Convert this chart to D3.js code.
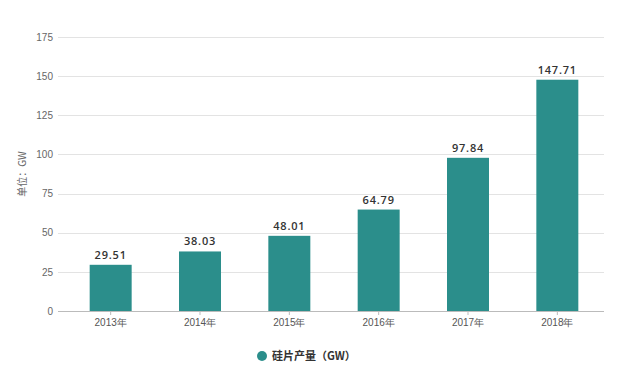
<!DOCTYPE html>
<html>
<head>
<meta charset="utf-8">
<script src="https://cdn.jsdelivr.net/npm/d3@7"></script>
<style>
  body { margin: 0; background: #fff; }
  svg { font-family: "Noto Sans CJK SC", "Noto Sans", sans-serif; }
</style>
</head>
<body>
<div id="chart"></div>
<script>
// wafer output by year, GW
const years = ['2013年', '2014年', '2015年', '2016年', '2017年', '2018年'];
const output = [29.51, 38.03, 48.01, 64.79, 97.84, 147.71];
const yTicks = [0, 25, 50, 75, 100, 125, 150, 175];
const seriesName = '硅片产量（GW）';

const width = 619;
const height = 376;
const barColor = '#2b8e8b';

const svg = d3.select('#chart')
  .append('svg')
  .attr('width', width)
  .attr('height', height);

const x = d3.scaleBand()
  .domain(years)
  .range([66, 602])
  .paddingInner(0.53)
  .paddingOuter(0.265);

const y = d3.scaleLinear()
  .domain([0, 175])
  .range([311, 37]);

// gridlines
svg.append('g')
  .selectAll('line')
  .data(yTicks)
  .enter()
  .append('line')
  .attr('x1', 58)
  .attr('x2', 604)
  .attr('y1', d => Math.round(y(d)) + 0.5)
  .attr('y2', d => Math.round(y(d)) + 0.5)
  .attr('stroke', d => d === 0 ? '#bbb' : '#e3e3e3')
  .attr('stroke-width', 1);

// y axis labels
const yAxis = svg.append('g')
  .attr('transform', 'translate(53,0)')
  .call(d3.axisLeft(y).tickValues(yTicks).tickSize(0).tickPadding(0));
yAxis.select('.domain').remove();
yAxis.selectAll('text')
  .attr('fill', '#666')
  .attr('font-size', 10)
  .attr('font-family', '"Liberation Sans", Arial, sans-serif');

// x axis
const xAxis = svg.append('g')
  .attr('transform', 'translate(0,311)')
  .call(d3.axisBottom(x).tickSize(4).tickPadding(4));
xAxis.select('.domain').remove();
xAxis.selectAll('line').attr('stroke', '#bbb');
xAxis.selectAll('text')
  .attr('fill', '#555')
  .attr('font-size', 10);

// bars
svg.append('g')
  .selectAll('rect')
  .data(output)
  .enter()
  .append('rect')
  .attr('x', (d, i) => x(years[i]))
  .attr('y', d => y(d))
  .attr('width', x.bandwidth())
  .attr('height', d => y(0) - y(d))
  .attr('fill', barColor);

// value labels
svg.append('g')
  .selectAll('text')
  .data(output)
  .enter()
  .append('text')
  .attr('x', (d, i) => x(years[i]) + x.bandwidth() / 2)
  .attr('y', d => y(d) - 6)
  .attr('text-anchor', 'middle')
  .attr('font-size', 11)
  .attr('font-weight', 600)
  .attr('letter-spacing', 0.8)
  .attr('font-family', '"Open Sans", sans-serif')
  .attr('fill', '#333')
  .text(d => d.toFixed(2));

// y axis title
svg.append('text')
  .attr('transform', 'translate(26,174) rotate(-90)')
  .attr('text-anchor', 'middle')
  .attr('font-size', 10)
  .attr('fill', '#666')
  .text('单位：GW');

// legend
const legend = svg.append('g');
legend.append('circle')
  .attr('cx', 262)
  .attr('cy', 356)
  .attr('r', 5)
  .attr('fill', barColor);
legend.append('text')
  .attr('x', 272)
  .attr('y', 360)
  .attr('font-size', 11)
  .attr('font-weight', 'bold')
  .attr('fill', '#333')
  .text(seriesName);
</script>
</body>
</html>
